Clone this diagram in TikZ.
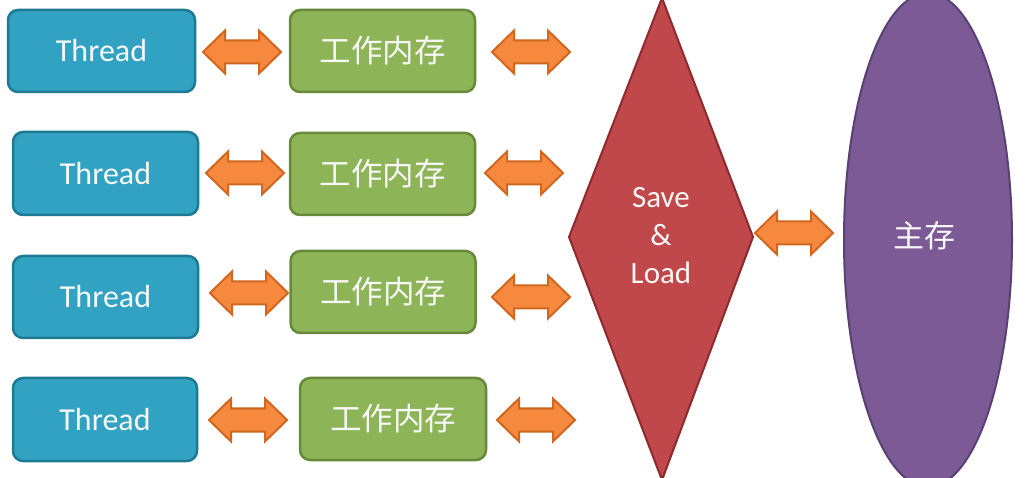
\documentclass[tikz,border=0pt]{standalone}
\usepackage{fontspec}
\setmainfont{Carlito}
\newfontfamily\cjk{Noto Sans CJK SC}
\usetikzlibrary{shapes.geometric}
\definecolor{thrfill}{HTML}{31A2C2}
\definecolor{thrline}{HTML}{1E7A93}
\definecolor{wrkfill}{HTML}{8DB456}
\definecolor{wrkline}{HTML}{67893A}
\definecolor{arrfill}{HTML}{F7893F}
\definecolor{arrline}{HTML}{D0661F}
\definecolor{dimfill}{HTML}{C0474A}
\definecolor{dimline}{HTML}{8C2A2D}
\definecolor{elfill}{HTML}{7B5A96}
\definecolor{elline}{HTML}{574272}
\definecolor{txt}{HTML}{F7F7F7}
\tikzset{
  box/.style={rectangle, rounded corners=10pt, line width=2.5pt, inner sep=0pt,
    text=txt, font=\fontsize{32}{38}\selectfont},
  thr/.style={box, fill=thrfill, draw=thrline},
  wrk/.style={box, fill=wrkfill, draw=wrkline, font=\cjk\fontsize{31.5}{38}\selectfont},
  blockarrow/.style={fill=arrfill, draw=arrline, line width=2pt, line join=miter},
}
\newcommand\dbarrow[1]{%
  \path[blockarrow] (#1) ++(-39,0) -- ++(22,-21.5) -- ++(0,10) -- ++(34,0) -- ++(0,-10)
    -- ++(22,21.5) -- ++(-22,21.5) -- ++(0,-10) -- ++(-34,0) -- ++(0,10) -- cycle;}
\begin{document}
\begin{tikzpicture}[x=1pt,y=-1pt]
\useasboundingbox (0,0) rectangle (1026,478);
% threads
\node[thr, minimum width=187pt, minimum height=82pt] (t1) at (101.5,51) {Thread};
\node[thr, minimum width=185pt, minimum height=83pt] (t2) at (105.5,173.5) {Thread};
\node[thr, minimum width=185pt, minimum height=82pt] (t3) at (105.5,297) {Thread};
\node[thr, minimum width=184pt, minimum height=83pt] (t4) at (105,419.5) {Thread};
% working memory
\node[wrk, minimum width=185pt, minimum height=82pt] (w1) at (382.5,51) {工作内存};
\node[wrk, minimum width=185pt, minimum height=82pt] (w2) at (382.5,174) {工作内存};
\node[wrk, minimum width=185pt, minimum height=82pt] (w3) at (383,292) {工作内存};
\node[wrk, minimum width=186pt, minimum height=82pt] (w4) at (393,419) {工作内存};
% diamond
\coordinate (dt) at (662,-2);
\coordinate (dr) at (753,237);
\coordinate (db) at (662,480);
\coordinate (dl) at (569,237);
\draw[fill=dimfill, draw=dimline, line width=2pt, line join=miter] (dt) -- (dr) -- (db) -- (dl) -- cycle;
\node[text=txt, align=center, font=\fontsize{31}{38}\selectfont] (sl) at (661,236) {Save\\\&\\Load};
% ellipse
\node[ellipse, fill=elfill, draw=elline, line width=2pt, minimum width=168pt, minimum height=494pt, inner sep=0pt] (mm) at (928,240) {};
\node[text=txt, font=\cjk\fontsize{31}{38}\selectfont] (mmt) at (924,236) {主存};
% arrows
\coordinate (a1l) at (242,52);  \coordinate (a1r) at (531,52);
\coordinate (a2l) at (245,173); \coordinate (a2r) at (524,173);
\coordinate (a3l) at (249,293); \coordinate (a3r) at (531,297);
\coordinate (a4l) at (248,420); \coordinate (a4r) at (536,420);
\coordinate (am) at (794,233);
\foreach \c in {a1l,a1r,a2l,a2r,a3l,a3r,a4l,a4r,am} {\dbarrow{\c}}
\end{tikzpicture}
\end{document}
